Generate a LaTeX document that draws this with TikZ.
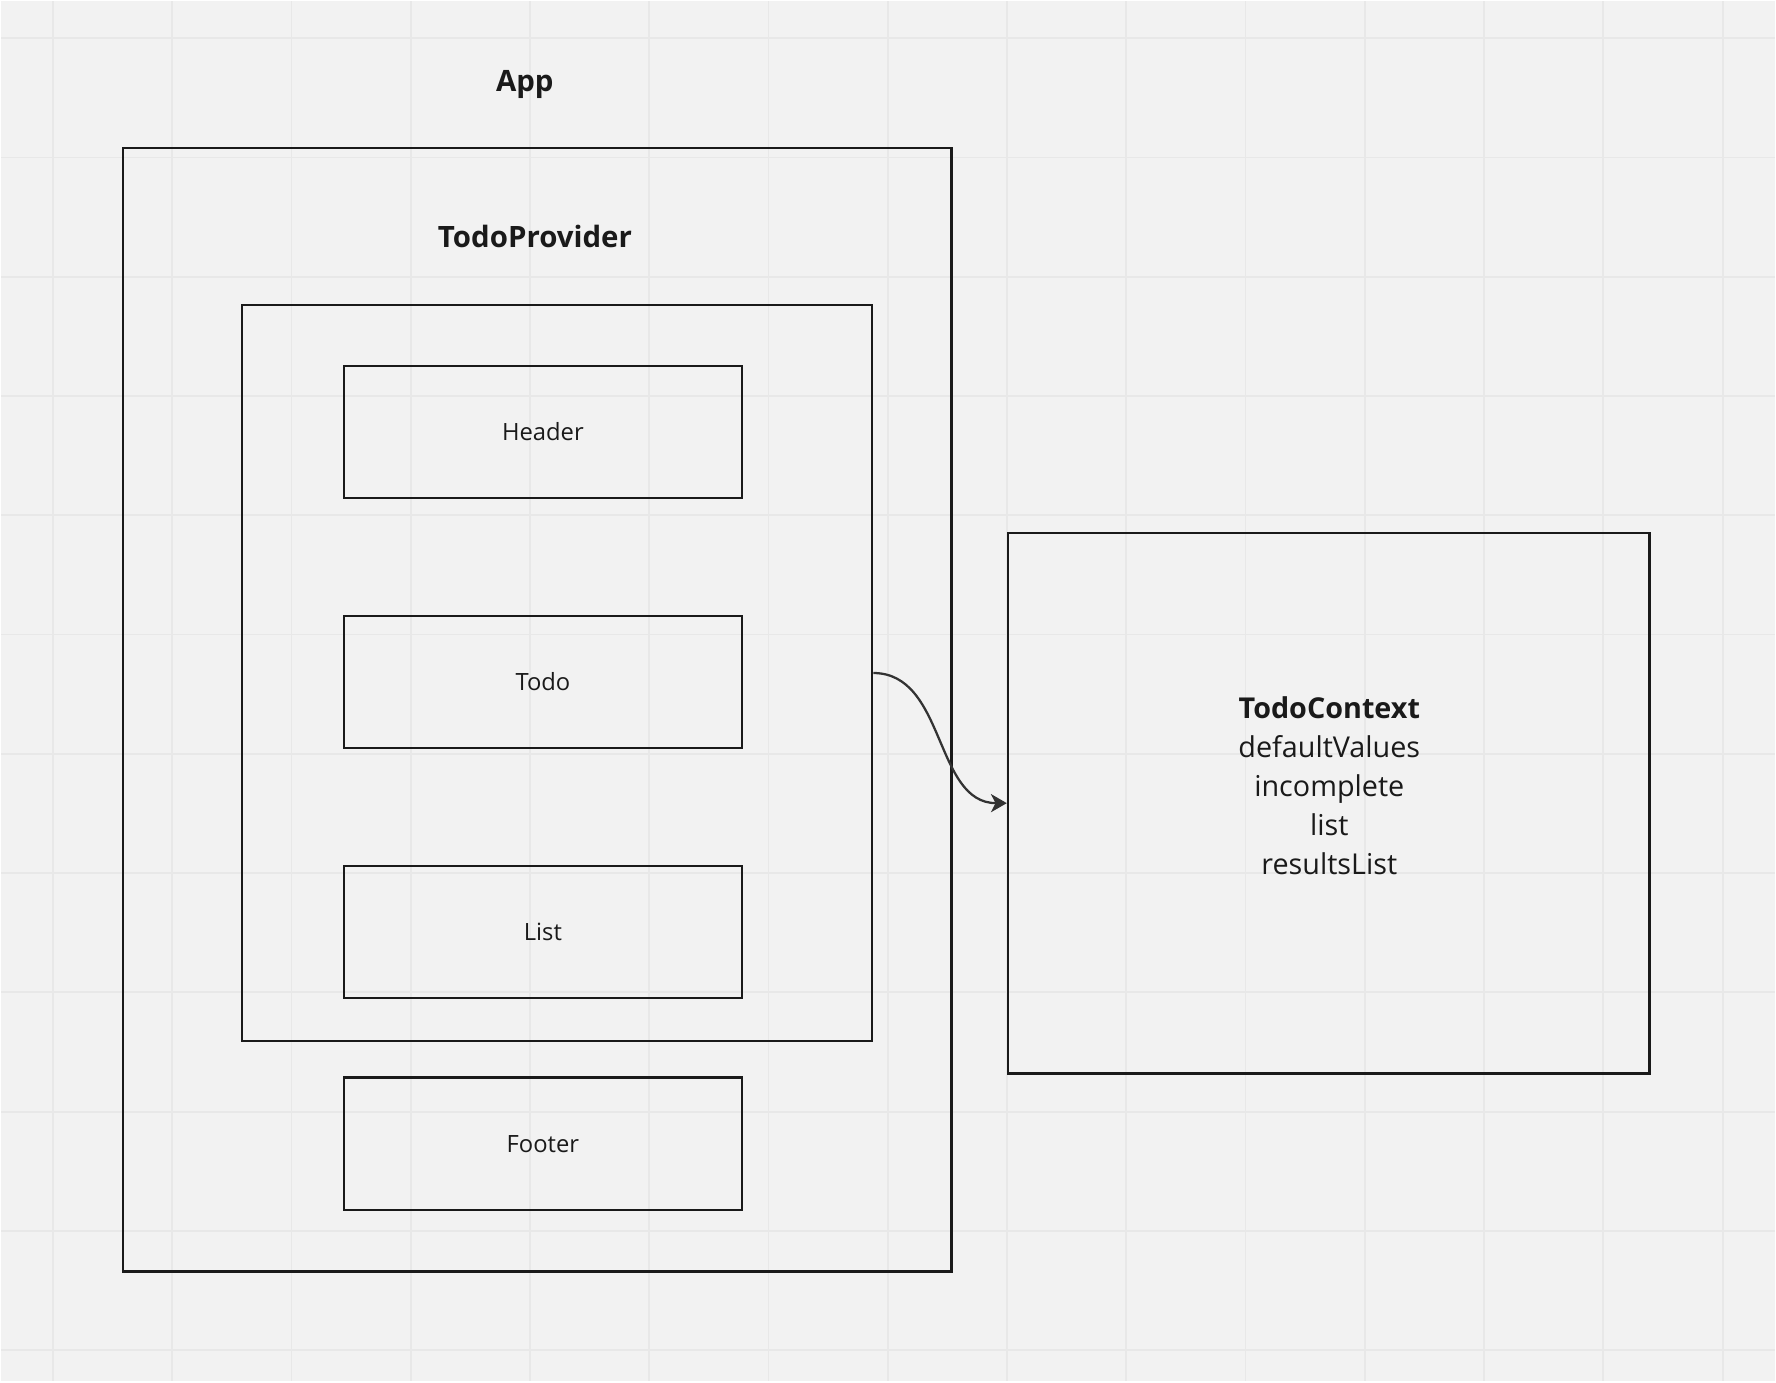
\documentclass[tikz,border=0pt]{standalone}
\usepackage{fontspec}
\setmainfont{Open Sans}
\usetikzlibrary{arrows.meta}
\definecolor{board}{HTML}{F2F2F2}
\definecolor{gridline}{HTML}{E8E8E8}
\definecolor{ink}{HTML}{1A1A1A}
\definecolor{wire}{HTML}{333333}
\begin{document}
\begin{tikzpicture}[x=0.5pt,y=-0.5pt,
    frame/.style={draw=ink,line width=1pt,inner sep=0pt},
    comp/.style={frame,minimum width=176pt,minimum height=58.5pt,
      font=\fontsize{10.5}{12.5}\selectfont,text=ink},
    title/.style={font=\fontsize{13}{15.5}\selectfont\bfseries,text=ink}]
  \fill[color=board] (0,0) rectangle (1568,1220);
  \foreach \i in {0,...,14}
    \draw[gridline,line width=0.8pt] ({46+105.4*\i},0) -- ++(0,1220);
  \foreach \j in {0,...,11}
    \draw[gridline,line width=0.8pt] (0,{33+105.4*\j}) -- ++(1568,0);
  \node[title] (apptitle) at (463,74) {App};
  \node[frame,minimum width=366pt,minimum height=496.5pt] (app) at (474,626.5) {};
  \node[title] (providertitle) at (472,208) {TodoProvider};
  \node[frame,minimum width=278.5pt,minimum height=325pt] (provider) at (491.5,594) {};
  \node[comp] (header) at (479,381) {Header};
  \node[comp] (todo) at (479,602) {Todo};
  \node[comp] (list) at (479,823) {List};
  \node[comp] (footer) at (479,1010) {Footer};
  \node[frame,minimum width=283.5pt,minimum height=239pt] (context) at (1173.5,709) {};
  \node[align=center,text=ink,font=\fontsize{12.7}{17.25}\selectfont] (contexttext) at (1174,693.5)
    {\textbf{TodoContext}\\defaultValues\\incomplete\\list\\resultsList};
  \draw[wire,line width=1pt,-{Stealth[length=7pt,width=8pt,inset=2pt]}]
    (provider.east) to[out=0,in=180] (context.west);
\end{tikzpicture}
\end{document}
